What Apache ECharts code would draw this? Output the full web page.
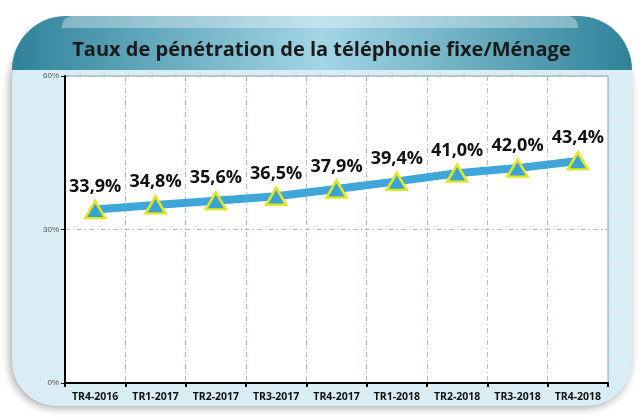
<!DOCTYPE html>
<html>
<head>
<meta charset="utf-8">
<script src="https://cdn.jsdelivr.net/npm/echarts@6/dist/echarts.min.js"></script>
<style>
html, body { margin: 0; padding: 0; background: #fff; }
#chart { width: 643px; height: 419px; }
</style>
</head>
<body>
<div id="chart"></div>
<script>
var categories = ['TR4-2016', 'TR1-2017', 'TR2-2017', 'TR3-2017', 'TR4-2017', 'TR1-2018', 'TR2-2018', 'TR3-2018', 'TR4-2018'];
var taux = [33.9, 34.8, 35.6, 36.5, 37.9, 39.4, 41.0, 42.0, 43.4];
var yTicks = [0, 30, 60];

var myChart = echarts.init(document.getElementById('chart'));

var option = {
    backgroundColor: '#ffffff',
    graphic: [
        // panneau bleu clair
        {
            type: 'rect', z: -10,
            shape: { x: 12, y: 22, width: 620, height: 384, r: [60, 60, 45, 45] },
            style: { fill: '#d9edf5', shadowBlur: 8, shadowColor: 'rgba(0,0,0,0.35)', shadowOffsetX: -2, shadowOffsetY: 2 }
        },
        // bandeau titre
        {
            type: 'rect', z: -9,
            shape: { x: 12, y: 16, width: 620, height: 54, r: [58, 58, 0, 0] },
            style: {
                fill: new echarts.graphic.LinearGradient(0, 0, 1, 0, [
                    { offset: 0, color: '#2f8299' },
                    { offset: 0.5, color: '#a3d6e6' },
                    { offset: 1, color: '#2f8299' }
                ])
            }
        },
        {
            type: 'rect', z: -8,
            shape: { x: 62, y: 16, width: 516, height: 12, r: [10, 10, 0, 0] },
            style: { fill: 'rgba(255,255,255,0.35)' }
        }
    ],
    title: {
        text: 'Taux de pénétration de la téléphonie fixe/Ménage',
        left: 'center',
        top: 35,
        textStyle: { fontFamily: 'Open Sans', fontWeight: 'bold', fontSize: 20, color: '#1a1a1a' }
    },
    grid: { left: 65, right: 35, top: 76, bottom: 36, show: true, backgroundColor: '#ffffff', borderColor: '#9a9a9a', borderWidth: 1 },
    xAxis: {
        type: 'category',
        data: categories,
        boundaryGap: true,
        axisLine: { lineStyle: { color: '#000', width: 2 } },
        axisTick: { show: true, length: 4, lineStyle: { color: '#000', width: 2 } },
        axisLabel: { fontFamily: 'Open Sans', fontWeight: 'bold', fontSize: 10.5, color: '#111', margin: 9 },
        splitLine: { show: true, lineStyle: { color: '#9ec3d6', type: [5, 3, 1, 3], width: 1 } }
    },
    yAxis: {
        type: 'value',
        min: yTicks[0],
        max: yTicks[yTicks.length - 1],
        interval: 30,
        axisLine: { show: true, lineStyle: { color: '#000', width: 2 } },
        axisTick: { show: true, length: 4, lineStyle: { color: '#000' } },
        axisLabel: { formatter: '{value}%', fontSize: 8, color: '#555', margin: 6 },
        splitLine: { show: true, lineStyle: { color: '#9ec3d6', type: [5, 3, 1, 3], width: 1 } }
    },
    series: [{
        type: 'line',
        data: taux,
        symbol: 'triangle',
        symbolSize: [20, 17],
        lineStyle: { color: '#3ea6d8', width: 8 },
        itemStyle: { color: '#3aa3d3', borderColor: '#e0e620', borderWidth: 2.5 },
        label: {
            show: true,
            position: 'top',
            distance: 4,
            fontFamily: 'Open Sans',
            fontWeight: 'bold',
            fontSize: 18,
            color: '#111',
            formatter: function (p) { return p.value.toFixed(1).replace('.', ',') + '%'; }
        },
        z: 5
    }]
};

myChart.setOption(option);
</script>
</body>
</html>
